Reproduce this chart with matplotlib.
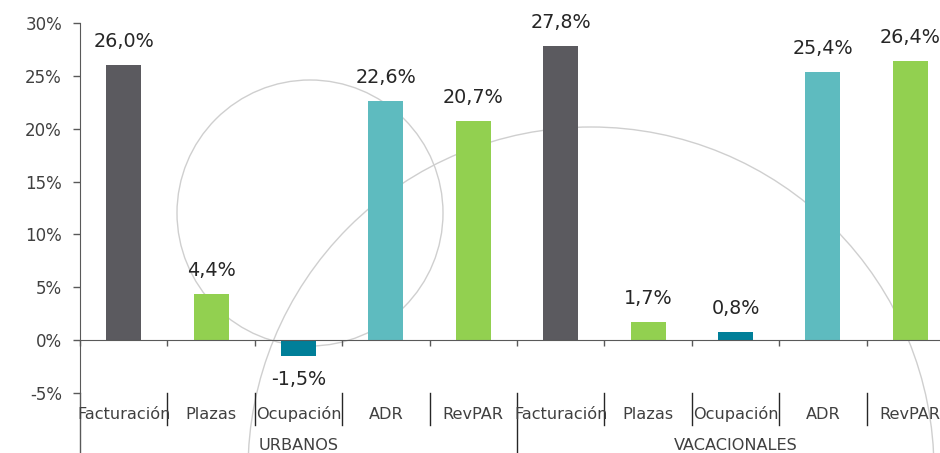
import numpy as np
import matplotlib
matplotlib.use("Agg")
import matplotlib.pyplot as plt
from matplotlib.patches import Ellipse
import matplotlib.transforms as mtransforms

plt.rcParams['font.family'] = ['DejaVu Sans']

# data
groups = ["URBANOS", "VACACIONALES"]
metrics = ["Facturación", "Plazas", "Ocupación", "ADR", "RevPAR"]
urbanos = [26.0, 4.4, -1.5, 22.6, 20.7]
vacacionales = [27.8, 1.7, 0.8, 25.4, 26.4]
metric_colors = ["#5b5a5f", "#92d050", "#007f99", "#5ebbbf", "#92d050"]
yticks = [-5, 0, 5, 10, 15, 20, 25, 30]

values = urbanos + vacacionales
labels = metrics * 2
colors = metric_colors * 2
x = np.arange(len(values))

W, H = 940, 453
fig = plt.figure(figsize=(W / 100, H / 100), dpi=100)
ax = fig.add_axes([80 / W, 1 - 393 / H, 874 / W, 370 / H])
ax.patch.set_alpha(0)

# decorative circles behind the chart
for cx, cy, r in [(310, 213, 133), (591, 470, 343)]:
    c = Ellipse((cx / W, 1 - cy / H), 2 * r / W, 2 * r / H, transform=fig.transFigure,
                fill=False, edgecolor="#cfcfcf", linewidth=1, zorder=-1)
    fig.patches.append(c)

ax.bar(x, values, width=0.4, color=colors, zorder=2)

for xi, v in zip(x, values):
    txt = f"{v:.1f}%".replace(".", ",")
    off = 17 if v >= 0 else -17
    ax.annotate(txt, (xi, v), xytext=(0, off), textcoords="offset points",
                ha="center", va="center", fontsize=13.8, color="#262626")

ax.set_xlim(-0.5, 9.5)
ax.set_ylim(-5, 30)
ax.set_yticks(yticks)
ax.set_yticklabels([f"{t}%" for t in yticks])
ax.tick_params(axis="y", length=5, width=1, color="#595959", pad=8,
               labelsize=12, labelcolor="#404040")

for s in ["top", "right"]:
    ax.spines[s].set_visible(False)
ax.spines["left"].set_color("#595959")
ax.spines["bottom"].set_position(("data", 0))
ax.spines["bottom"].set_color("#595959")
ax.set_xticks(np.arange(-0.5, 10, 1))
ax.set_xticklabels([])
ax.tick_params(axis="x", length=4, width=1, color="#595959", direction="out")

trans = mtransforms.blended_transform_factory(ax.transData, ax.transAxes)
for xi, lab in zip(x, labels):
    ax.text(xi, -0.057, lab, transform=trans, ha="center", va="center",
            fontsize=11.6, color="#404040")
for b in np.arange(0.5, 9.5, 1):
    low = -0.162 if b == 4.5 else -0.0865
    ax.plot([b, b], [0, low], transform=trans, color="#262626", lw=1, clip_on=False)
ax.plot([-0.5, -0.5], [0, -0.162], transform=trans, color="#595959", lw=1, clip_on=False)
for gi, g in enumerate(groups):
    ax.text(gi * 5 + 2, -0.143, g, transform=trans, ha="center", va="center",
            fontsize=11.6, color="#404040")

fig.savefig("out.png", dpi=100)
